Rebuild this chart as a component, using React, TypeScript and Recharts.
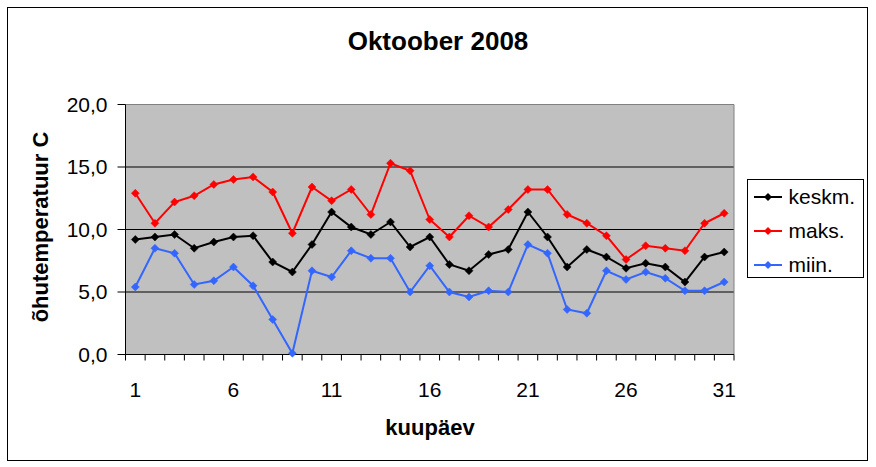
import React from 'react';
import { LineChart, Line, XAxis, YAxis, CartesianGrid, ReferenceLine, Legend } from 'recharts';

const days = [1, 2, 3, 4, 5, 6, 7, 8, 9, 10, 11, 12, 13, 14, 15, 16, 17, 18, 19, 20, 21, 22, 23, 24, 25, 26, 27, 28, 29, 30, 31];
const keskm = [9.2, 9.4, 9.6, 8.5, 9.0, 9.4, 9.5, 7.4, 6.6, 8.8, 11.4, 10.2, 9.6, 10.6, 8.6, 9.4, 7.2, 6.7, 8.0, 8.4, 11.4, 9.4, 7.0, 8.4, 7.8, 6.9, 7.3, 7.0, 5.8, 7.8, 8.2];
const maks = [12.9, 10.5, 12.2, 12.7, 13.6, 14.0, 14.2, 13.0, 9.7, 13.4, 12.3, 13.2, 11.2, 15.3, 14.7, 10.8, 9.4, 11.1, 10.2, 11.6, 13.2, 13.2, 11.2, 10.5, 9.5, 7.6, 8.7, 8.5, 8.3, 10.5, 11.3];
const miin = [5.4, 8.5, 8.1, 5.6, 5.9, 7.0, 5.5, 2.8, 0.1, 6.7, 6.2, 8.3, 7.7, 7.7, 5.0, 7.1, 5.0, 4.6, 5.1, 5.0, 8.8, 8.1, 3.6, 3.3, 6.7, 6.0, 6.6, 6.1, 5.1, 5.1, 5.8];

const yTicks = [0, 5, 10, 15, 20];
const gridValues = [5, 10, 15];
const xLabelDays = [1, 6, 11, 16, 21, 26, 31];
const seriesKeys = ['keskm', 'maks', 'miin'];
const seriesNames = ['keskm.', 'maks.', 'miin.'];
const seriesColors = ['#000000', '#FF0000', '#3366FF'];

const title = 'Oktoober 2008';
const yTitle = 'õhutemperatuur C';
const xTitle = 'kuupäev';

const data = days.map((d, i) => ({ day: d, keskm: keskm[i], maks: maks[i], miin: miin[i] }));
const boundaries = [...days.map((d) => d - 0.5), days[days.length - 1] + 0.5];
const xTicks = [...boundaries, ...xLabelDays].sort((a, b) => a - b);
const xDomain = [boundaries[0], boundaries[boundaries.length - 1]];

const FONT = "'Liberation Sans', Arial, sans-serif";

const makeDiamond = (color: string) => (props: any) => {
  const { cx, cy, index } = props;
  if (cx == null || cy == null) return <g key={`d-${index}`} />;
  const r = 4;
  return (
    <polygon
      key={`d-${index}`}
      points={`${cx},${cy - r} ${cx + r},${cy} ${cx},${cy + r} ${cx - r},${cy}`}
      fill={color}
      stroke={color}
      strokeWidth={0.5}
    />
  );
};

const XTick = (props: any) => {
  const { x, y, payload } = props;
  const v = payload.value;
  if (Number.isInteger(v)) {
    return (
      <text x={x} y={y + 36} textAnchor="middle" fontSize={21} fontFamily={FONT} fill="#000">
        {v}
      </text>
    );
  }
  return <line x1={x} y1={y - 6} x2={x} y2={y} stroke="#000" strokeWidth={1} />;
};

const LegendBox = () => (
  <div
    style={{
      width: 117,
      height: 99,
      border: '1px solid #000',
      boxSizing: 'border-box',
      background: '#fff',
      fontFamily: FONT,
      fontSize: 21,
      color: '#000',
    }}
  >
    {seriesNames.map((n, i) => (
      <div key={n} style={{ height: 34, display: 'flex', alignItems: 'center', whiteSpace: 'nowrap' }}>
        <svg width={28} height={10} style={{ marginLeft: 6, marginRight: 7, flex: 'none' }}>
          <line x1={0} y1={5} x2={28} y2={5} stroke={seriesColors[i]} strokeWidth={2} />
          <polygon points="14,1 18,5 14,9 10,5" fill={seriesColors[i]} />
        </svg>
        <span>{n}</span>
      </div>
    ))}
  </div>
);

export default function App() {
  return (
    <div style={{ position: 'fixed', left: 0, top: 0, width: 876, height: 467, background: '#fff', overflow: 'hidden' }}>
      <div style={{ position: 'absolute', left: 0, top: 0 }}>
        <LineChart width={876} height={467} data={data} margin={{ top: 104.5, right: 142, bottom: 52.5, left: 0 }}>
          <CartesianGrid fill="#C0C0C0" horizontal={false} vertical={false} />
          {gridValues.map((v) => (
            <ReferenceLine key={v} y={v} stroke="#000" strokeWidth={1} />
          ))}
          <ReferenceLine y={yTicks[yTicks.length - 1]} stroke="#808080" strokeWidth={1} />
          <ReferenceLine x={xDomain[1]} stroke="#808080" strokeWidth={1} />
          <XAxis
            type="number"
            dataKey="day"
            domain={xDomain}
            ticks={xTicks}
            interval={0}
            tick={XTick}
            tickLine={false}
            tickSize={6}
            tickMargin={0}
            axisLine={{ stroke: '#000', strokeWidth: 1 }}
            height={60}
            allowDecimals
          />
          <YAxis
            type="number"
            domain={[0, 20]}
            ticks={yTicks}
            interval={0}
            width={125.5}
            tickSize={8}
            tickMargin={10}
            tickFormatter={(v: number) => v.toFixed(1).replace('.', ',')}
            tick={{ fontSize: 21, fill: '#000', fontFamily: FONT }}
            axisLine={{ stroke: '#000', strokeWidth: 1 }}
            tickLine={{ stroke: '#000', strokeWidth: 1 }}
          />
          {seriesKeys.map((k, i) => (
            <Line
              key={k}
              type="linear"
              dataKey={k}
              name={seriesNames[i]}
              stroke={seriesColors[i]}
              strokeWidth={2}
              dot={makeDiamond(seriesColors[i])}
              activeDot={false}
              isAnimationActive={false}
            />
          ))}
          <Legend
            layout="horizontal"
            align="center"
            verticalAlign="middle"
            content={LegendBox}
            wrapperStyle={{ left: 746.5, top: 179, width: 117, height: 99 }}
          />
        </LineChart>
      </div>
      <svg width={876} height={467} style={{ position: 'absolute', left: 0, top: 0, pointerEvents: 'none' }}>
        <text x={438} y={50} textAnchor="middle" fontFamily={FONT} fontWeight="bold" fontSize={26} fill="#000">
          {title}
        </text>
        <text
          x={48}
          y={227}
          transform="rotate(-90, 48, 227)"
          textAnchor="middle"
          fontFamily={FONT}
          fontWeight="bold"
          fontSize={22}
          fill="#000"
        >
          {yTitle}
        </text>
        <text x={430} y={435} textAnchor="middle" fontFamily={FONT} fontWeight="bold" fontSize={22} fill="#000">
          {xTitle}
        </text>
      </svg>
      <div
        style={{
          position: 'absolute',
          left: 7,
          top: 7,
          width: 861,
          height: 454,
          border: '1.5px solid #000',
          boxSizing: 'border-box',
          pointerEvents: 'none',
        }}
      />
    </div>
  );
}
